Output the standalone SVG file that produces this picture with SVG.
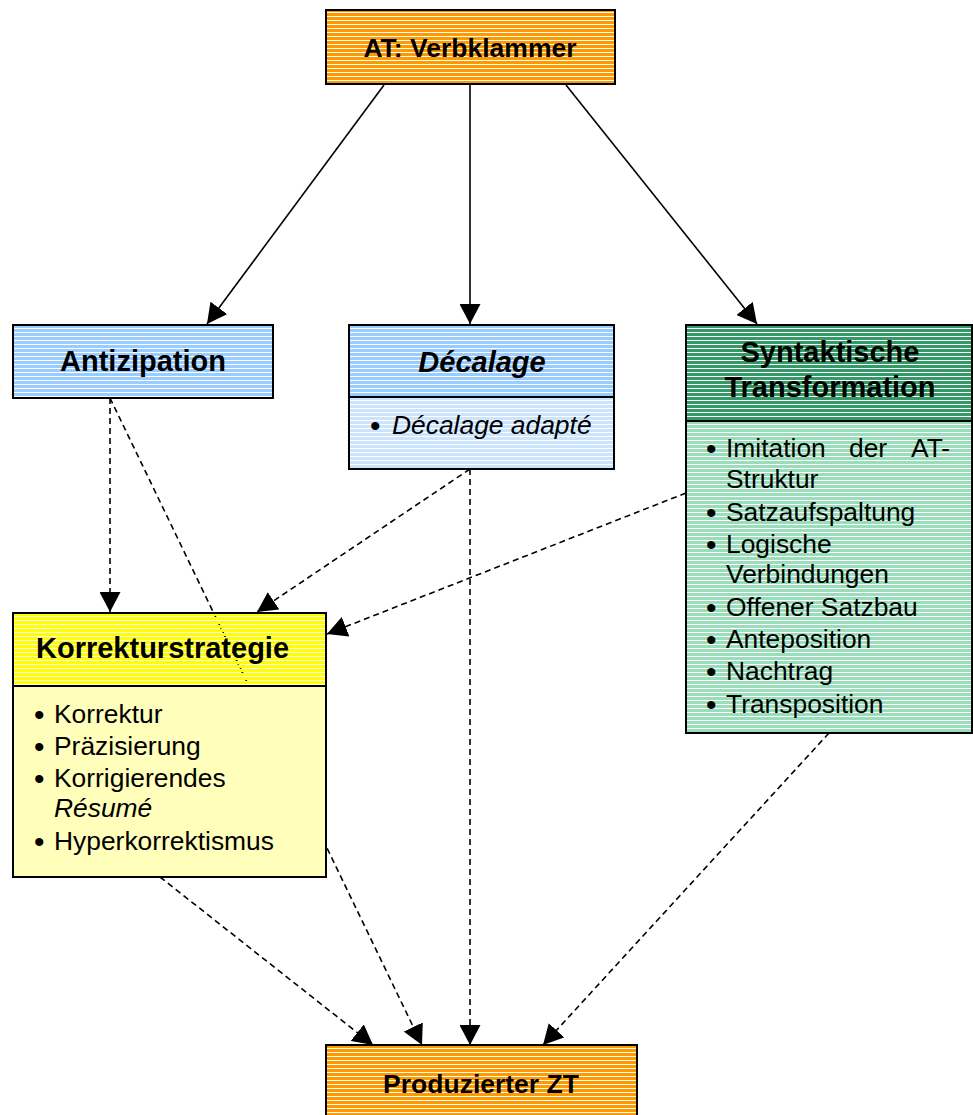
<svg xmlns="http://www.w3.org/2000/svg" width="973" height="1115" viewBox="0 0 973 1115">
<style>
.t{font-family:"Liberation Sans",Arial,sans-serif;fill:#000}
.h{font-weight:bold;font-size:29px}
.h2{font-weight:bold;font-size:26.5px}
.b{font-size:26.4px}
.bl{font-size:30px}
.i{font-style:italic}
.box{fill:none;stroke:#000;stroke-width:2}
.div{stroke:#000;stroke-width:2}
.solid{fill:none;stroke:#000;stroke-width:1.6}
.dash{fill:none;stroke:#000;stroke-width:1.6;stroke-dasharray:6 4}
</style>
<defs>
<pattern id="pOrange" patternUnits="userSpaceOnUse" width="8" height="4"><rect y="1" width="8" height="3" fill="#FF9900"/></pattern>
<pattern id="pBlue" patternUnits="userSpaceOnUse" width="8" height="4"><rect y="1" width="8" height="3" fill="#99CCFF"/></pattern>
<pattern id="pBlueL" patternUnits="userSpaceOnUse" width="8" height="4"><rect y="1" width="8" height="3" fill="#CCE5FF"/></pattern>
<pattern id="pGreen" patternUnits="userSpaceOnUse" width="8" height="4"><rect y="1" width="8" height="3" fill="#339966"/></pattern>
<pattern id="pGreenL" patternUnits="userSpaceOnUse" width="8" height="4"><rect y="1" width="8" height="3" fill="#99DDBB"/></pattern>
<pattern id="pYellow" patternUnits="userSpaceOnUse" width="8" height="4"><rect y="1" width="8" height="3" fill="#FFFF00"/></pattern>
<marker id="ah" markerUnits="userSpaceOnUse" markerWidth="20" markerHeight="21" viewBox="0 0 20 21" refX="20" refY="10.5" orient="auto"><path d="M0,0 L20,10.5 L0,21 z" fill="#000"/></marker>
</defs>
<rect width="973" height="1115" fill="#fff"/>
<g id="connectors">
<path class="solid" d="M384,85 L207,324" marker-end="url(#ah)"/>
<path class="solid" d="M470,85 L470,324" marker-end="url(#ah)"/>
<path class="solid" d="M566,85 L757,324" marker-end="url(#ah)"/>
<path class="dash" d="M110,398 L110,612" marker-end="url(#ah)"/>
<path class="dash" d="M110,398 L422,1045" marker-end="url(#ah)"/>
<path class="dash" d="M470,469 L257,612" marker-end="url(#ah)"/>
<path class="dash" d="M470,469 L470,1045" marker-end="url(#ah)"/>
<path class="dash" d="M686,493 L327,634" marker-end="url(#ah)"/>
<path class="dash" d="M160,877 L373,1045" marker-end="url(#ah)"/>
<path class="dash" d="M829,733 L543,1045" marker-end="url(#ah)"/>
</g>
<g id="at-verbklammer">
<rect x="326" y="10" width="289" height="74" fill="url(#pOrange)"/>
<rect class="box" x="326" y="10" width="289" height="74"/>
<text class="t h2" x="470" y="57" text-anchor="middle">AT: Verbklammer</text>
</g>
<g id="antizipation">
<rect x="13" y="325" width="260" height="73" fill="url(#pBlue)"/>
<rect class="box" x="13" y="325" width="260" height="73"/>
<text class="t h" x="143" y="371" text-anchor="middle">Antizipation</text>
</g>
<g id="decalage">
<rect x="349" y="325" width="265" height="72" fill="url(#pBlue)"/>
<rect x="349" y="397" width="265" height="72" fill="url(#pBlueL)"/>
<line class="div" x1="349" y1="397" x2="614" y2="397"/>
<rect class="box" x="349" y="325" width="265" height="144"/>
<text class="t h i" x="482" y="372" text-anchor="middle">Décalage</text>
<text class="t bl" x="370" y="436">•</text>
<text class="t b i" x="392" y="434">Décalage adapté</text>
</g>
<g id="syntaktische-transformation">
<rect x="686" y="325" width="286" height="96" fill="url(#pGreen)"/>
<rect x="686" y="421" width="286" height="312" fill="url(#pGreenL)"/>
<line class="div" x1="686" y1="421" x2="972" y2="421"/>
<rect class="box" x="686" y="325" width="286" height="408"/>
<text class="t h" x="830" y="362" text-anchor="middle">Syntaktische</text>
<text class="t h" x="830" y="397" text-anchor="middle">Transformation</text>
<text class="t bl"><tspan x="706" y="459">•</tspan><tspan x="706" y="523">•</tspan><tspan x="706" y="555">•</tspan><tspan x="706" y="618">•</tspan><tspan x="706" y="650">•</tspan><tspan x="706" y="682">•</tspan><tspan x="706" y="715">•</tspan></text>
<text class="t b"><tspan x="726" y="457">Imitation</tspan><tspan x="849" y="457">der</tspan><tspan x="911" y="457">AT-</tspan></text>
<text class="t b" x="726" y="488">Struktur</text>
<text class="t b" x="726" y="521">Satzaufspaltung</text>
<text class="t b" x="726" y="553">Logische</text>
<text class="t b" x="726" y="583">Verbindungen</text>
<text class="t b" x="726" y="616">Offener Satzbau</text>
<text class="t b" x="726" y="648">Anteposition</text>
<text class="t b" x="726" y="680">Nachtrag</text>
<text class="t b" x="726" y="713">Transposition</text>
</g>
<g id="korrekturstrategie">
<rect x="13" y="613" width="313" height="73" fill="url(#pYellow)"/>
<rect x="13" y="686" width="313" height="191" fill="#FFFFBB"/>
<line class="div" x1="13" y1="686" x2="326" y2="686"/>
<rect class="box" x="13" y="613" width="313" height="264"/>
<text class="t h" x="36" y="658">Korrekturstrategie</text>
<text class="t bl"><tspan x="34" y="725">•</tspan><tspan x="34" y="757">•</tspan><tspan x="34" y="789">•</tspan><tspan x="34" y="852">•</tspan></text>
<text class="t b" x="54" y="723">Korrektur</text>
<text class="t b" x="54" y="755">Präzisierung</text>
<text class="t b" x="54" y="787">Korrigierendes</text>
<text class="t b i" x="54" y="817">Résumé</text>
<text class="t b" x="54" y="850">Hyperkorrektismus</text>
</g>
<g id="produzierter-zt">
<rect x="326" y="1045" width="311" height="80" fill="url(#pOrange)"/>
<rect class="box" x="326" y="1045" width="311" height="80"/>
<text class="t h2" x="481" y="1093" text-anchor="middle">Produzierter ZT</text>
</g>
</svg>
